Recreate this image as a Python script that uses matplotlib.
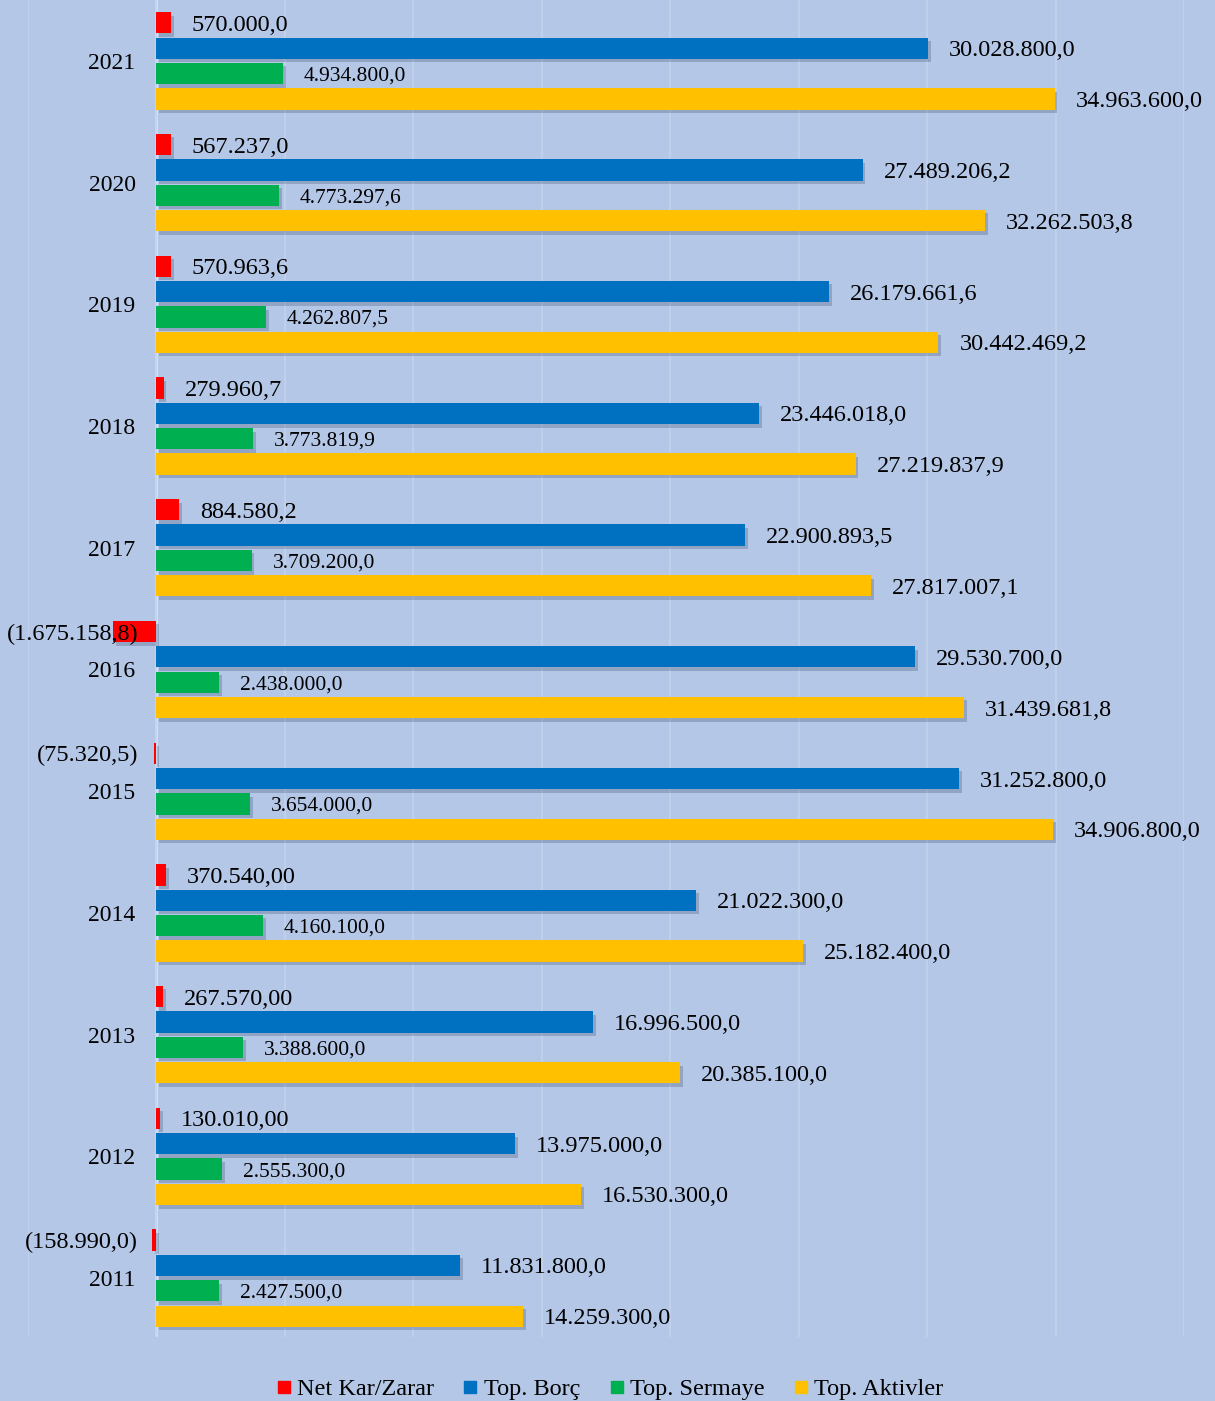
import numpy as np
import matplotlib.pyplot as plt
import matplotlib.patheffects as pe
from matplotlib.lines import Line2D

years = ["2011", "2012", "2013", "2014", "2015", "2016",
         "2017", "2018", "2019", "2020", "2021"]

net_kar = [-158990.0, 130010.00, 267570.00, 370540.00, -75320.5, -1675158.8,
           884580.2, 279960.7, 570963.6, 567237.0, 570000.0]
net_kar_dec = [1, 2, 2, 2, 1, 1, 1, 1, 1, 1, 1]
top_borc = [11831800.0, 13975000.0, 16996500.0, 21022300.0, 31252800.0, 29530700.0,
            22900893.5, 23446018.0, 26179661.6, 27489206.2, 30028800.0]
top_sermaye = [2427500.0, 2555300.0, 3388600.0, 4160100.0, 3654000.0, 2438000.0,
               3709200.0, 3773819.9, 4262807.5, 4773297.6, 4934800.0]
top_aktivler = [14259300.0, 16530300.0, 20385100.0, 25182400.0, 34906800.0, 31439681.8,
                27817007.1, 27219837.9, 30442469.2, 32262503.8, 34963600.0]

series = ["Net Kar/Zarar", "Top. Borç", "Top. Sermaye", "Top. Aktivler"]
colors = ["#FF0000", "#0070C0", "#00B050", "#FFC000"]
bg = "#B4C7E7"


def fmt(v, dec=1):
    s = f"{abs(v):,.{dec}f}"
    s = s.replace(",", "X").replace(".", ",").replace("X", ".")
    return f"({s})" if v < 0 else s


plt.rcParams["font.family"] = ["Liberation Serif", "DejaVu Serif"]

fig = plt.figure(figsize=(12.15, 14.01), dpi=100, facecolor=bg)
ax = fig.add_axes([0.023, 0.046, 0.9515, 0.954])
ax.set_facecolor(bg)

y = np.arange(len(years))
offs = [0.3125, 0.104, -0.104, -0.3125]
h = 0.175
data = [net_kar, top_borc, top_sermaye, top_aktivler]
decs = [net_kar_dec, [1] * 11, [1] * 11, [1] * 11]
shadow = [pe.SimplePatchShadow(offset=(2, -2.5), alpha=0.25, shadow_rgbFace="#2F3F5F"), pe.Normal()]

for k in range(4):
    bars = ax.barh(y + offs[k], data[k], height=h, color=colors[k], zorder=3)
    for b in bars:
        b.set_path_effects(shadow)
    fs = 15.5 if k == 2 else 17.5
    for i, v in enumerate(data[k]):
        lab = fmt(v, decs[k][i])
        if v < 0:
            ax.annotate(lab, (0, y[i] + offs[k]), xytext=(-13, 0),
                        textcoords="offset points", ha="right", va="center_baseline",
                        fontsize=fs, zorder=4)
        else:
            ax.annotate(lab, (v, y[i] + offs[k]), xytext=(15, 0),
                        textcoords="offset points", ha="left", va="center_baseline",
                        fontsize=fs, zorder=4)

for i, yr in enumerate(years):
    ax.annotate(yr, (0, y[i]), xytext=(-15, 0), textcoords="offset points",
                ha="right", va="center_baseline", fontsize=17)

ax.set_xlim(-5e6, 40e6)
ax.set_ylim(-0.48, 10.5)
ax.set_xticks(np.arange(-5e6, 40e6 + 1, 5e6))
ax.grid(axis="x", color="#C3D2EC", linewidth=1.2, zorder=0)
ax.axvline(0, color="#D6E0F2", linewidth=2, zorder=1)
ax.tick_params(left=False, bottom=False, labelleft=False, labelbottom=False)
for s in ax.spines.values():
    s.set_visible(False)

handles = [Line2D([], [], marker="s", linestyle="none", color=c, markersize=8)
           for c in colors]
fig.legend(handles, series, loc="lower center", bbox_to_anchor=(0.5, -0.015),
           ncol=4, frameon=False, fontsize=17.5, handletextpad=0.05,
           columnspacing=1.0, handlelength=1.0)

fig.savefig("out.png", dpi=100, facecolor=bg)
